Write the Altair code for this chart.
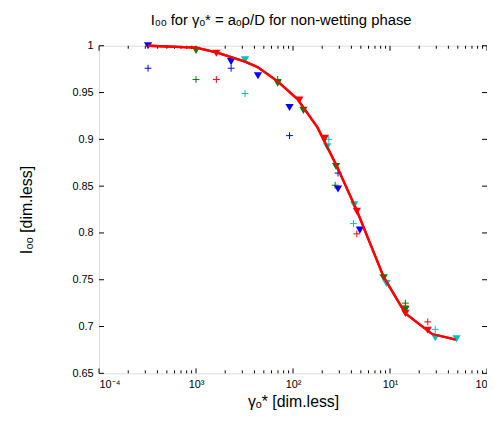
import altair as alt
import pandas as pd

# ---------------- data ----------------
series_names = ["blue", "green", "red", "cyan"]
series_colors = ["#0000ff", "#008000", "#ff0000", "#00bfbf"]

blue_tri_x = [3.2e-4, 2.3e-3, 4.35e-3, 9.2e-3, 2.91e-2, 4.89e-2]
blue_tri_y = [1.0, 0.983, 0.968, 0.934, 0.847, 0.803]
blue_plus_x = [3.2e-4, 2.3e-3, 9.2e-3, 2.91e-2]
blue_plus_y = [0.976, 0.976, 0.904, 0.864]

green_tri_x = [1.0e-3, 6.95e-3, 1.28e-2, 2.78e-2, 8.6e-2, 0.144]
green_tri_y = [0.995, 0.960, 0.931, 0.871, 0.752, 0.718]
green_plus_x = [1.0e-3, 6.95e-3, 2.72e-2, 0.144]
green_plus_y = [0.964, 0.964, 0.851, 0.725]

red_tri_x = [1.62e-3, 1.16e-2, 2.13e-2, 4.55e-2, 0.144, 0.245]
red_tri_y = [0.992, 0.942, 0.901, 0.823, 0.714, 0.696]
red_plus_x = [1.62e-3, 4.55e-2, 0.144, 0.245]
red_plus_y = [0.964, 0.799, 0.722, 0.705]

cyan_tri_x = [3.2e-3, 2.25e-2, 4.27e-2, 9.2e-2, 0.293, 0.485]
cyan_tri_y = [0.985, 0.892, 0.830, 0.746, 0.688, 0.687]
cyan_plus_x = [3.2e-3, 2.34e-2, 4.2e-2, 0.293]
cyan_plus_y = [0.949, 0.900, 0.810, 0.697]

fit_x = [3.2e-4, 1.0e-3, 1.62e-3, 3.2e-3, 4.34e-3, 6.95e-3, 1.11e-2, 1.78e-2,
         2.84e-2, 4.55e-2, 8.6e-2, 0.144, 0.272, 0.477]
fit_y = [1.0, 0.998, 0.993, 0.983, 0.977, 0.962, 0.943, 0.913,
         0.871, 0.824, 0.753, 0.714, 0.692, 0.686]

x_major = [1e-4, 1e-3, 1e-2, 1e-1, 1.0]
x_tick_labels = ["10⁻⁴", "10³", "10²", "10¹", "10"]
x_minor = [k * 10.0 ** e for e in range(-4, 0) for k in range(2, 10)]
y_ticks = [0.65, 0.7, 0.75, 0.8, 0.85, 0.9, 0.95, 1.0]

title_text = "I₀ₒ for γₒ* = aₒρ/D for non-wetting phase"
x_title = "γₒ* [dim.less]"
y_title = "I₀ₒ [dim.less]"

# ---------------- tables ----------------
tri = {"blue": (blue_tri_x, blue_tri_y), "green": (green_tri_x, green_tri_y),
       "red": (red_tri_x, red_tri_y), "cyan": (cyan_tri_x, cyan_tri_y)}
plus = {"blue": (blue_plus_x, blue_plus_y), "green": (green_plus_x, green_plus_y),
        "red": (red_plus_x, red_plus_y), "cyan": (cyan_plus_x, cyan_plus_y)}

tri_rows, plus_rows = [], []
for s in series_names:
    for xv, yv in zip(*tri[s]):
        tri_rows.append({"series": s, "x": xv, "y": yv})
    for xv, yv in zip(*plus[s]):
        plus_rows.append({"series": s, "x": xv, "y": yv})
tri_df = pd.DataFrame(tri_rows)
plus_df = pd.DataFrame(plus_rows)
fit_df = pd.DataFrame({"x": fit_x, "y": fit_y})
xmaj_df = pd.DataFrame({"x": x_major})
xmin_df = pd.DataFrame({"x": x_minor})
y_df = pd.DataFrame({"y": y_ticks})

W, H = 392, 331
FONT = "Liberation Sans"

label_expr = " : ".join(
    f"datum.value < {v * 3:.6g} ? '{lab}'" for v, lab in zip(x_major[:-1], x_tick_labels[:-1])
) + f" : '{x_tick_labels[-1]}'"

xscale = alt.Scale(type="log", domain=[1e-4, 1.0], nice=False)
yscale = alt.Scale(domain=[0.65, 1.0], nice=False, zero=False)
cscale = alt.Scale(domain=series_names, range=series_colors)

X = alt.X("x:Q", scale=xscale,
          axis=alt.Axis(values=x_major, labelExpr=label_expr, ticks=False, domain=False,
                        grid=False, labelPadding=5, labelFontSize=11, labelFont=FONT,
                        labelColor="black", title=x_title, titleFont=FONT, titleFontSize=16,
                        titleFontWeight="normal", titleColor="black", titlePadding=5))
Y = alt.Y("y:Q", scale=yscale,
          axis=alt.Axis(values=y_ticks, format="~g", ticks=False, domain=False, grid=False,
                        labelPadding=6, labelFontSize=11, labelFont=FONT, labelColor="black",
                        title=y_title, titleFont=FONT, titleFontSize=16,
                        titleFontWeight="normal", titleColor="black", titlePadding=38))

line = alt.Chart(fit_df).mark_line(color="#ff0000", strokeWidth=2.3).encode(x=X, y=Y)

tris = alt.Chart(tri_df).mark_point(shape="triangle-down", filled=True, size=70, opacity=1).encode(
    x=alt.X("x:Q", scale=xscale), y=alt.Y("y:Q", scale=yscale),
    color=alt.Color("series:N", scale=cscale, legend=None))

pluses = alt.Chart(plus_df).mark_point(shape="M-1,0L1,0M0,-1L0,1", filled=False, size=48,
                                       strokeWidth=1, opacity=1).encode(
    x=alt.X("x:Q", scale=xscale), y=alt.Y("y:Q", scale=yscale),
    color=alt.Color("series:N", scale=cscale, legend=None))

bx = alt.X("x:Q", scale=xscale)
by = alt.Y("y:Q", scale=yscale)
tick_b_maj = alt.Chart(xmaj_df).mark_rule(color="black", strokeWidth=1).encode(
    x=bx, y=alt.value(H), y2=alt.value(H - 5))
tick_t_maj = alt.Chart(xmaj_df).mark_rule(color="black", strokeWidth=1).encode(
    x=bx, y=alt.value(0), y2=alt.value(5))
tick_b_min = alt.Chart(xmin_df).mark_rule(color="black", strokeWidth=1).encode(
    x=bx, y=alt.value(H), y2=alt.value(H - 3))
tick_t_min = alt.Chart(xmin_df).mark_rule(color="black", strokeWidth=1).encode(
    x=bx, y=alt.value(0), y2=alt.value(3))
tick_l = alt.Chart(y_df).mark_rule(color="black", strokeWidth=1).encode(
    y=by, x=alt.value(0), x2=alt.value(5))
tick_r = alt.Chart(y_df).mark_rule(color="black", strokeWidth=1).encode(
    y=by, x=alt.value(W), x2=alt.value(W - 5))

chart = alt.layer(
    line, tick_b_maj, tick_t_maj, tick_b_min, tick_t_min, tick_l, tick_r, pluses, tris, line
).properties(
    width=W, height=H,
    title=alt.TitleParams(title_text, font=FONT, fontSize=15, fontWeight="normal",
                          color="black", anchor="middle", offset=12, dx=-12),
    autosize=alt.AutoSizeParams(type="none"),
    padding={"left": 92, "top": 36, "right": 0, "bottom": 46},
).configure_view(stroke="black", strokeWidth=1.2).configure(background="white")

chart.save("out.html", embed_options={"renderer": "svg", "actions": False})
